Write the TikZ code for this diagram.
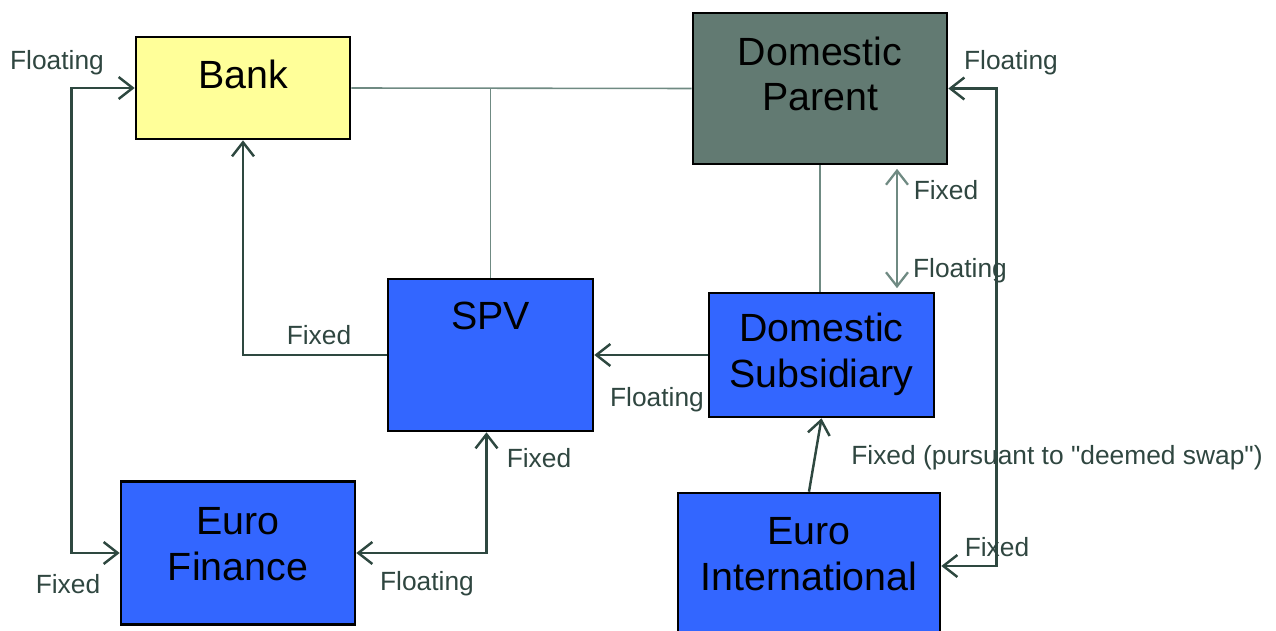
\documentclass[tikz,border=0pt]{standalone}
\usepackage{fontspec}
\setmainfont{Liberation Sans}[Ligatures=TeXOff]
\usetikzlibrary{arrows.meta,calc}
\definecolor{bankyellow}{HTML}{FFFF99}
\definecolor{parentgray}{HTML}{627A72}
\definecolor{boxblue}{HTML}{3366FF}
\definecolor{linegray}{HTML}{6F8A82}
\definecolor{arrowdark}{HTML}{2E4840}
\definecolor{labeldark}{HTML}{2F4640}
\begin{document}
\begin{tikzpicture}[x=0.02cm,y=-0.02cm,
  box/.style={draw=black,line width=1.5pt,rectangle,align=center,inner sep=0pt,
    font=\fontsize{22.4}{26}\selectfont,text=black},
  boxtext/.style={align=center,inner sep=0pt,font=\fontsize{22.4}{26}\selectfont,text=black},
  lbl/.style={font=\fontsize{15}{18}\selectfont,text=labeldark,inner sep=0pt},
  arr/.style={draw=arrowdark,line width=1.4pt,arrows={-Straight Barb[length=8pt,width=12.5pt,line width=1.4pt]}},
  darr/.style={draw=arrowdark,line width=1.4pt,arrows={Straight Barb[length=8pt,width=12.5pt,line width=1.4pt]-Straight Barb[length=8pt,width=12.5pt,line width=1.4pt]}},
  garr/.style={draw=linegray,line width=1.3pt,arrows={Straight Barb[length=8pt,width=12.5pt,line width=1.3pt]-Straight Barb[length=8pt,width=12.5pt,line width=1.3pt]}},
  gline/.style={draw=linegray,line width=0.9pt}]
\useasboundingbox (0,0) rectangle (1276,631);
\begin{scope}
\clip (0,0) rectangle (1276,631);
% boxes
\node[box,fill=bankyellow,minimum width=214*0.02cm,minimum height=102*0.02cm] (bank) at (243,88) {};
\node[boxtext] (bankt) at (243,74) {Bank};
\node[box,fill=parentgray,minimum width=254*0.02cm,minimum height=151*0.02cm] (par) at (820,88.5) {};
\node[boxtext] (part) at (820,74) {Domestic\\Parent};
\node[box,fill=boxblue,minimum width=205*0.02cm,minimum height=152*0.02cm] (spv) at (490.5,355) {};
\node[boxtext] (spvt) at (490.5,316) {SPV};
\node[box,fill=boxblue,minimum width=225*0.02cm,minimum height=124*0.02cm] (sub) at (821.5,355) {};
\node[boxtext] (subt) at (821.5,354) {Domestic\\Subsidiary};
\node[box,fill=boxblue,minimum width=234*0.02cm,minimum height=143*0.02cm] (ef) at (238,553) {};
\node[boxtext] (eft) at (238,544) {Euro\\Finance};
\node[box,fill=boxblue,minimum width=262*0.02cm,minimum height=146*0.02cm] (ei) at (809,566) {};
\node[boxtext] (eit) at (809,554) {Euro\\International};
\end{scope}
% gray connecting lines
\draw[gline] (bank.east) -- (par.west);
\draw[gline] (spv.north) -- (spv.north |- bank.east);
\draw[gline] (par.south) -- (par.south |- sub.north);
% arrows
\draw[darr] (bank.west) -- ++(-63,0) |- (ef.west);
\draw[arr] (spv.west) -| (bank.south);
\draw[arr] (sub.west) -- (spv.west -| spv.east);
\coordinate (spvin) at ($(spv.south)+(-4,0)$);
\draw[darr] (ef.east) -| (spvin);
\draw[arr] (ei.north) -- (sub.south);
\draw[darr] (par.east) -- ++(48,0) |- (ei.east);
\coordinate (gtop) at ($(par.south)+(77,0)$);
\coordinate (gbot) at (gtop |- sub.north);
\draw[garr,shorten <=2pt,shorten >=2pt] (gtop) -- (gbot);
% labels
\node[lbl] (l1) at (57,63) {Floating};
\node[lbl] (l2) at (68,584) {Fixed};
\node[lbl] (l3) at (319,335) {Fixed};
\node[lbl] (l4) at (657,400) {Floating};
\node[lbl] (l5) at (539,458) {Fixed};
\node[lbl] (l6) at (427,584) {Floating};
\node[lbl] (l7) at (946,190) {Fixed};
\node[lbl] (l8) at (960,271) {Floating};
\node[lbl] (l9) at (1011,63) {Floating};
\node[lbl] (l10) at (997,547) {Fixed};
\node[lbl] (l11) at (1057,458) {Fixed (pursuant to "deemed swap")};
\end{tikzpicture}
\end{document}
